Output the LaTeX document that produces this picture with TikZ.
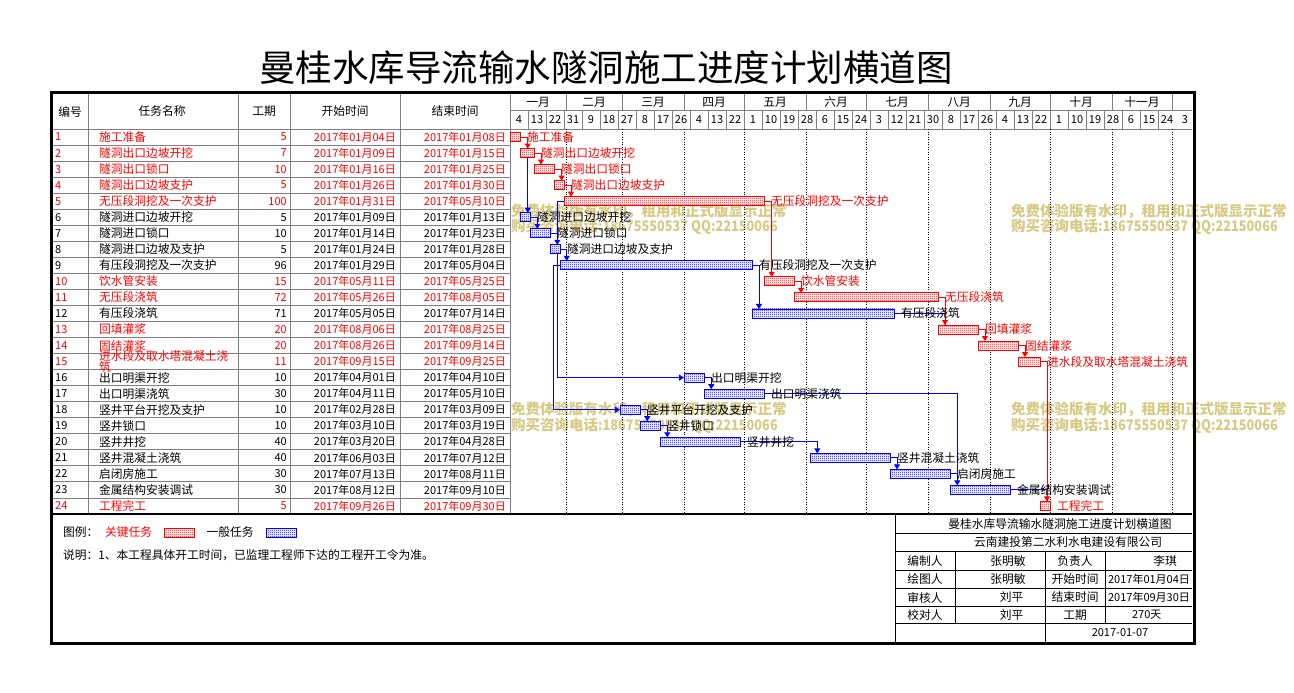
\documentclass[tikz,border=0pt]{standalone}
\usepackage{fontspec}
\setmainfont{Noto Sans CJK SC}
\usepackage{xcolor}
\usetikzlibrary{arrows.meta, backgrounds, patterns}

\pgfdeclarepatternformonly{checker}{\pgfpointorigin}{\pgfpoint{2pt}{2pt}}{\pgfpoint{2pt}{2pt}}{%
    \pgfpathrectangle{\pgfpointorigin}{\pgfpoint{1pt}{1pt}}%
    \pgfpathrectangle{\pgfpoint{1pt}{1pt}}{\pgfpoint{1pt}{1pt}}%
    \pgfusepath{fill}}

\definecolor{wmark}{RGB}{214,202,132}
\definecolor{gridgray}{RGB}{128,128,128}

\newcommand{\wmphone}{购买咨询电话\scalebox{0.88}[1]{:18675550537 QQ:22150066}}

\tikzset{
    cell/.style={font=\fontsize{11.75}{12}\selectfont, inner sep=0pt},
    datecell/.style={font=\fontsize{11}{12}\selectfont, inner sep=0pt},
    taskbar/.style={draw=#1, line width=0.9pt, preaction={fill=white}, pattern=checker,
        pattern color=#1, minimum height=9pt, inner sep=0pt, outer sep=0pt, anchor=west},
    link/.style={draw=#1, line width=1pt},
    gridline/.style={draw=gridgray, line width=0.8pt},
    monthline/.style={draw=black, line width=0.8pt, dash pattern=on 1pt off 1.5pt},
    blockline/.style={draw=black, line width=0.8pt},
    watermark/.style={font=\fontsize{14.5}{15}\selectfont\bfseries, text=wmark, inner sep=0pt, anchor=west}
}

\begin{document}
\begin{tikzpicture}[x=1pt, y=-1pt, >={Triangle[length=5pt,width=6pt]}]
    \useasboundingbox (0,0) rectangle (1294,693);

    \node[font=\fontsize{36.5}{40}\selectfont] (title) at (606,68) {曼桂水库导流输水隧洞施工进度计划横道图};

    % header
    \node[cell] (hno) at (70,111.5) {编号};
    \node[cell] (hname) at (162,111.5) {任务名称};
    \node[cell] (hdur) at (264,111.5) {工期};
    \node[cell] (hstart) at (345,111.5) {开始时间};
    \node[cell] (hend) at (455,111.5) {结束时间};

    \foreach \m/\xa/\xb [count=\k] in {一月/510/566, 二月/566/622, 三月/622/684, 四月/684/744,
        五月/744/806, 六月/806/866, 七月/866/928, 八月/928/990, 九月/990/1050, 十月/1050/1112, 十一月/1112/1172}{
        \node[cell] (mon\k) at ({(\xa+\xb)/2},102) {\m};
    }
    \foreach \d [count=\k from 0] in {4,13,22,31,9,18,27,8,17,26,4,13,22,1,10,19,28,6,15,24,3,12,21,30,8,17,26,4,13,22,1,10,19,28,6,15,24,3}{
        \node[datecell] (day\k) at ({510+18*\k+9},120) {\d};
    }

    % tasks
    \foreach \i/\nm/\du/\sd/\ed/\cl/\bc/\ds/\de in {
        1/施工准备/5/01月04日/01月08日/red/red/0/4,
        2/隧洞出口边坡开挖/7/01月09日/01月15日/red/red/5/11,
        3/隧洞出口锁口/10/01月16日/01月25日/red/red/12/21,
        4/隧洞出口边坡支护/5/01月26日/01月30日/red/red/22/26,
        5/无压段洞挖及一次支护/100/01月31日/05月10日/red/red/27/126,
        6/隧洞进口边坡开挖/5/01月09日/01月13日/black/blue/5/9,
        7/隧洞进口锁口/10/01月14日/01月23日/black/blue/10/19,
        8/隧洞进口边坡及支护/5/01月24日/01月28日/black/blue/20/24,
        9/有压段洞挖及一次支护/96/01月29日/05月04日/black/blue/25/120,
        10/饮水管安装/15/05月11日/05月25日/red/red/127/141,
        11/无压段浇筑/72/05月26日/08月05日/red/red/142/213,
        12/有压段浇筑/71/05月05日/07月14日/black/blue/121/191,
        13/回填灌浆/20/08月06日/08月25日/red/red/214/233,
        14/固结灌浆/20/08月26日/09月14日/red/red/234/253,
        15/进水段及取水塔混凝土浇筑/11/09月15日/09月25日/red/red/254/264,
        16/出口明渠开挖/10/04月01日/04月10日/black/blue/87/96,
        17/出口明渠浇筑/30/04月11日/05月10日/black/blue/97/126,
        18/竖井平台开挖及支护/10/02月28日/03月09日/black/blue/55/64,
        19/竖井锁口/10/03月10日/03月19日/black/blue/65/74,
        20/竖井井挖/40/03月20日/04月28日/black/blue/75/114,
        21/竖井混凝土浇筑/40/06月03日/07月12日/black/blue/150/189,
        22/启闭房施工/30/07月13日/08月11日/black/blue/190/219,
        23/金属结构安装调试/30/08月12日/09月10日/black/blue/220/249,
        24/工程完工/5/09月26日/09月30日/red/red/265/269}{
        \pgfmathsetmacro\ry{129+(\i-0.5)*16.04}
        \node[datecell, anchor=west, text=\cl] (no\i) at (55,\ry) {\i};
        \ifnum\i=15\relax
            \node[cell, anchor=west, text=\cl, align=left, font=\fontsize{11.75}{11.5}\selectfont] (nm\i) at (99,\ry) {进水段及取水塔混凝土浇\\筑};
        \else
            \node[cell, anchor=west, text=\cl] (nm\i) at (99,\ry) {\nm};
        \fi
        \node[datecell, anchor=east, text=\cl] (du\i) at (287,\ry) {\du};
        \node[datecell, anchor=east, text=\cl] (sd\i) at (396,\ry) {2017年\sd};
        \node[datecell, anchor=east, text=\cl] (ed\i) at (506,\ry) {2017年\ed};
        \node[taskbar=\bc, minimum width={2*(\de-\ds+1)}] (bar\i) at ({510+2*\ds},\ry) {};
        \node[cell, anchor=west, text=\cl] (lab\i) at ([xshift=7pt]bar\i.east) {\nm};
    }

    \begin{scope}[on background layer]
        \node[watermark] (wm1a) at (511,211) {免费体验版有水印，租用和正式版显示正常};
        \node[watermark] (wm1b) at (511,227) {\wmphone};
        \node[watermark] (wm2a) at (1011,211) {免费体验版有水印，租用和正式版显示正常};
        \node[watermark] (wm2b) at (1011,227) {\wmphone};
        \node[watermark] (wm3a) at (511,409) {免费体验版有水印，租用和正式版显示正常};
        \node[watermark] (wm3b) at (511,426) {\wmphone};
        \node[watermark] (wm4a) at (1011,409) {免费体验版有水印，租用和正式版显示正常};
        \node[watermark] (wm4b) at (1011,426) {\wmphone};

        % table grid
        \foreach \r in {1,...,23}{
            \draw[gridline] (53,{129+\r*16.04}) -- (510,{129+\r*16.04});
        }
        \foreach \c in {88,238,290,400,510}{
            \draw[gridline] (\c,94) -- (\c,514);
        }
        \draw[gridline] (53,129) -- (1192,129);
        \draw[gridline] (510,110) -- (1192,110);
        \foreach \k in {1,...,36}{
            \draw[gridline] ({510+18*\k},110) -- ({510+18*\k},129);
        }
        \foreach \xb in {566,622,684,744,806,866,928,990,1050,1112,1172}{
            \draw[gridline] (\xb,94) -- (\xb,110);
            \draw[monthline] (\xb,129) -- (\xb,514);
        }

        % links
        \draw[link=blue,->] (bar1.east) -| ([xshift=7.7pt]bar6.north west);
        \draw[link=blue,->] (bar6.east) -| ([xshift=7.3pt]bar7.north west);
        \draw[link=blue,->] (bar7.east) -| ([xshift=7.3pt]bar8.north west);
        \draw[link=blue,->] (bar8.east) -| ([xshift=6.7pt]bar9.north west);
        \draw[link=blue,->] (bar9.east) -| ([xshift=7pt]bar12.north west);
        \draw[link=blue] (bar12.east) -| ([xshift=7pt]bar13.north west);
        \draw[link=blue,->] (bar5.west) -- ++(-7,0) |- (bar16.west);
        \draw[link=blue,->] (bar9.west) -- ++(-6.7,0) |- (bar18.west);
        \draw[link=blue,->] (bar16.east) -| ([xshift=7.3pt]bar17.north west);
        \draw[link=blue,->] (bar17.east) -| ([xshift=7.3pt]bar23.north west);
        \draw[link=blue,->] (bar18.east) -| ([xshift=7.3pt]bar19.north west);
        \draw[link=blue,->] (bar19.east) -| ([xshift=7.3pt]bar20.north west);
        \draw[link=blue,->] (bar20.east) -| ([xshift=7.3pt]bar21.north west);
        \draw[link=blue,->] (bar21.east) -| ([xshift=7pt]bar22.north west);
        \draw[link=blue] (bar22.east) -| ([xshift=7.3pt]bar23.north west);
        \draw[link=blue] (bar23.east) -| ([xshift=7pt]bar24.north west);

        \draw[link=red,->] (bar1.east) -| ([xshift=7.7pt]bar2.north west);
        \draw[link=red,->] (bar2.east) -| ([xshift=7pt]bar3.north west);
        \draw[link=red,->] (bar3.east) -| ([xshift=7.7pt]bar4.north west);
        \draw[link=red,->] (bar4.east) -| ([xshift=7pt]bar5.north west);
        \draw[link=red,->] (bar5.east) -| ([xshift=7.7pt]bar10.north west);
        \draw[link=red,->] (bar10.east) -| ([xshift=7pt]bar11.north west);
        \draw[link=red,->] (bar11.east) -| ([xshift=7pt]bar13.north west);
        \draw[link=red,->] (bar13.east) -| ([xshift=7pt]bar14.north west);
        \draw[link=red,->] (bar14.east) -| ([xshift=7pt]bar15.north west);
        \draw[link=red,->] (bar15.east) -| ([xshift=7pt]bar24.north west);
    \end{scope}

    % legend and notes
    \node[cell, anchor=west] (legend) at (63,532.5) {图例：};
    \node[cell, anchor=west, text=red] (legcrit) at (105,532.5) {关键任务};
    \node[taskbar=red, minimum width=30] (legcritbar) at (164,532.5) {};
    \node[cell, anchor=west] (legnorm) at (206.5,532.5) {一般任务};
    \node[taskbar=blue, minimum width=29.5] (legnormbar) at (266.5,532.5) {};
    \node[cell, anchor=west] (note) at (63,555) {说明：1、本工程具体开工时间，已监理工程师下达的工程开工令为准。};

    % title block
    \draw[blockline] (895,514) -- (895,642);
    \foreach \y in {533.3,551.7,570,588.3,606.7,623.3}{
        \draw[blockline] (895,\y) -- (1192,\y);
    }
    \draw[blockline] (955,551.7) -- (955,623.3);
    \draw[blockline] (1045.7,551.7) -- (1045.7,642);
    \draw[blockline] (1105,551.7) -- (1105,623.3);

    \node[cell] (tbtitle) at (1060,524.2) {曼桂水库导流输水隧洞施工进度计划横道图};
    \node[cell] (tbcompany) at (1068,542.5) {云南建投第二水利水电建设有限公司};
    \node[cell] (tbdraft) at (925,560.8) {编制人};
    \node[cell] (tbdraftn) at (1008,560.8) {张明敏};
    \node[cell] (tblead) at (1075,560.8) {负责人};
    \node[cell] (tbleadn) at (1165,560.8) {李琪};
    \node[cell] (tbdraw) at (925,579.2) {绘图人};
    \node[cell] (tbdrawn) at (1008,579.2) {张明敏};
    \node[cell] (tbstart) at (1075,579.2) {开始时间};
    \node[datecell] (tbstartd) at (1149,579.2) {2017年01月04日};
    \node[cell] (tbcheck) at (925,597.5) {审核人};
    \node[cell] (tbcheckn) at (1011.7,597.5) {刘平};
    \node[cell] (tbend) at (1075,597.5) {结束时间};
    \node[datecell] (tbendd) at (1149,597.5) {2017年09月30日};
    \node[cell] (tbproof) at (925,615) {校对人};
    \node[cell] (tbproofn) at (1011.7,615) {刘平};
    \node[cell] (tbdur) at (1075,615) {工期};
    \node[datecell] (tbdurd) at (1146.7,615) {270天};
    \node[datecell] (tbdate) at (1120,632.5) {2017-01-07};

    \draw[black, line width=1.5pt] (53,514) -- (1192,514);
    \draw[black, line width=3.2pt] (51.5,92.5) rectangle (1194.5,643.5);

  \end{tikzpicture}
\end{document}
